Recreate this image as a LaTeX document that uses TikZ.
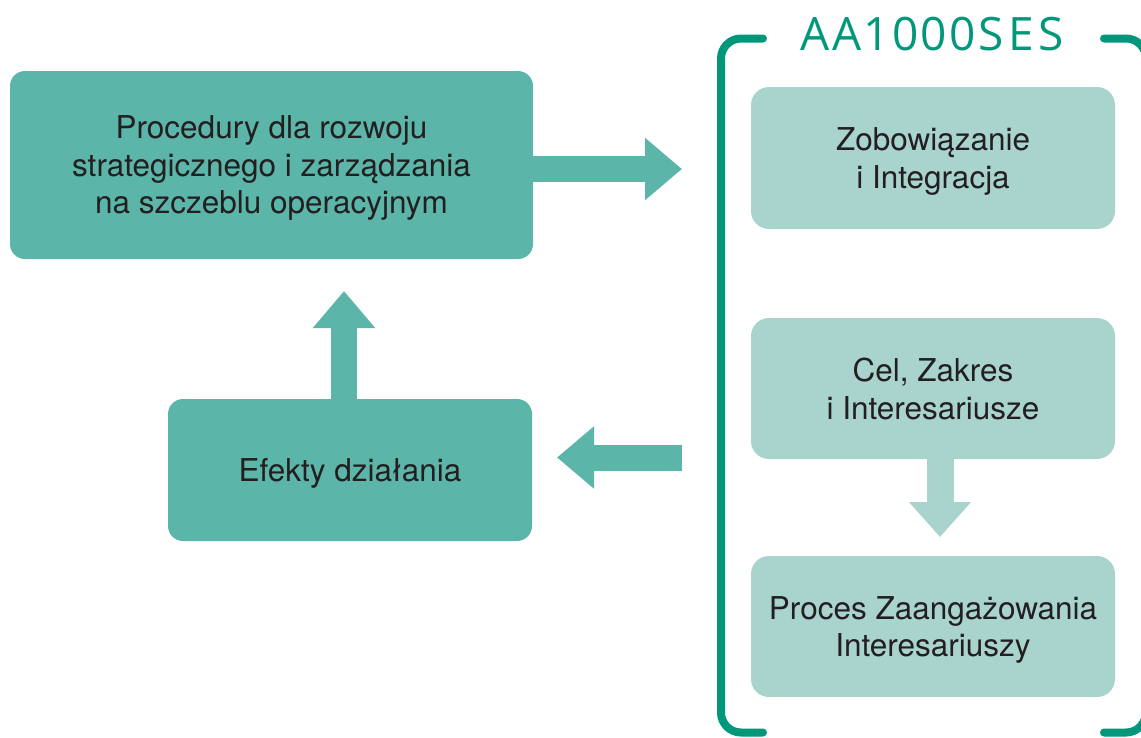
\documentclass[tikz,border=0pt]{standalone}
\usepackage{fontspec}
\setmainfont{TeX Gyre Heros}
\newfontfamily\titlefont[LetterSpace=5]{Open Sans}
\usetikzlibrary{arrows.meta}
\definecolor{boxdark}{HTML}{5BB5A8}
\definecolor{boxlight}{HTML}{A9D4CE}
\definecolor{brk}{HTML}{00977A}
\definecolor{txt}{HTML}{231F20}
\tikzset{
  darkbox/.style={fill=boxdark, rounded corners=15pt, draw=none, text=txt,
    font=\fontsize{31.5}{37.5}\selectfont, align=center, inner sep=0pt, text depth=0pt},
  lightbox/.style={fill=boxlight, rounded corners=18pt, draw=none, text=txt,
    font=\fontsize{31.5}{37.5}\selectfont, align=center, inner sep=0pt, text depth=0pt},
  blockdark/.style={draw=boxdark, line width=26pt,
    -{Triangle[width=60pt,length=37pt]}},
  blocklight/.style={draw=boxlight, line width=27pt,
    -{Triangle[width=60pt,length=35pt]}},
  bracket/.style={draw=brk, line width=8pt, line cap=round, rounded corners=20pt},
}
\begin{document}
\begin{tikzpicture}[x=1pt,y=-1pt]
\clip (0,0) rectangle (1141,737);
\useasboundingbox (0,0) rectangle (1141,737);

% bracket
\draw[bracket] (763,38.5) -- (721,38.5) -- (721,732.5) -- (763,732.5);
\draw[bracket] (1104,38.5) -- (1146,38.5) -- (1146,732.5) -- (1104,732.5);
\node[anchor=base, text=brk, inner sep=0pt, font=\titlefont\fontsize{46}{46}\selectfont]
  (title) at (932.5,50) {AA1000S\kern5pt E\kern5pt S};

% boxes
\node[darkbox, minimum width=523pt, minimum height=188pt] (b1) at (271.5,165)
  {Procedury dla rozwoju\\strategicznego i zarządzania\\na szczeblu operacyjnym};
\node[darkbox, minimum width=364pt, minimum height=142pt] (b2) at (350,470)
  {Efekty działania};
\node[lightbox, minimum width=364pt, minimum height=142pt] (ba) at (933,158)
  {Zobowiązanie\\i Integracja};
\node[lightbox, minimum width=364pt, minimum height=141pt] (bb) at (933,388.5)
  {Cel, Zakres\\i Interesariusze};
\node[lightbox, minimum width=364pt, minimum height=141pt] (bc) at (933,626.5)
  {Proces Zaangażowania\\Interesariuszy};

% arrows
\coordinate (rtip) at (682,169);
\draw[blockdark] (b1.east |- rtip) -- (rtip);
\coordinate (lsrc) at (682,457.5);
\coordinate (ltip) at (557,457.5);
\draw[blockdark] (lsrc) -- (ltip);
\coordinate (utip) at (344,291);
\draw[blockdark] (b2.north -| utip) -- (utip);
\coordinate (dtip) at (940,537);
\draw[blocklight] (bb.south -| dtip) -- (dtip);
\end{tikzpicture}
\end{document}
